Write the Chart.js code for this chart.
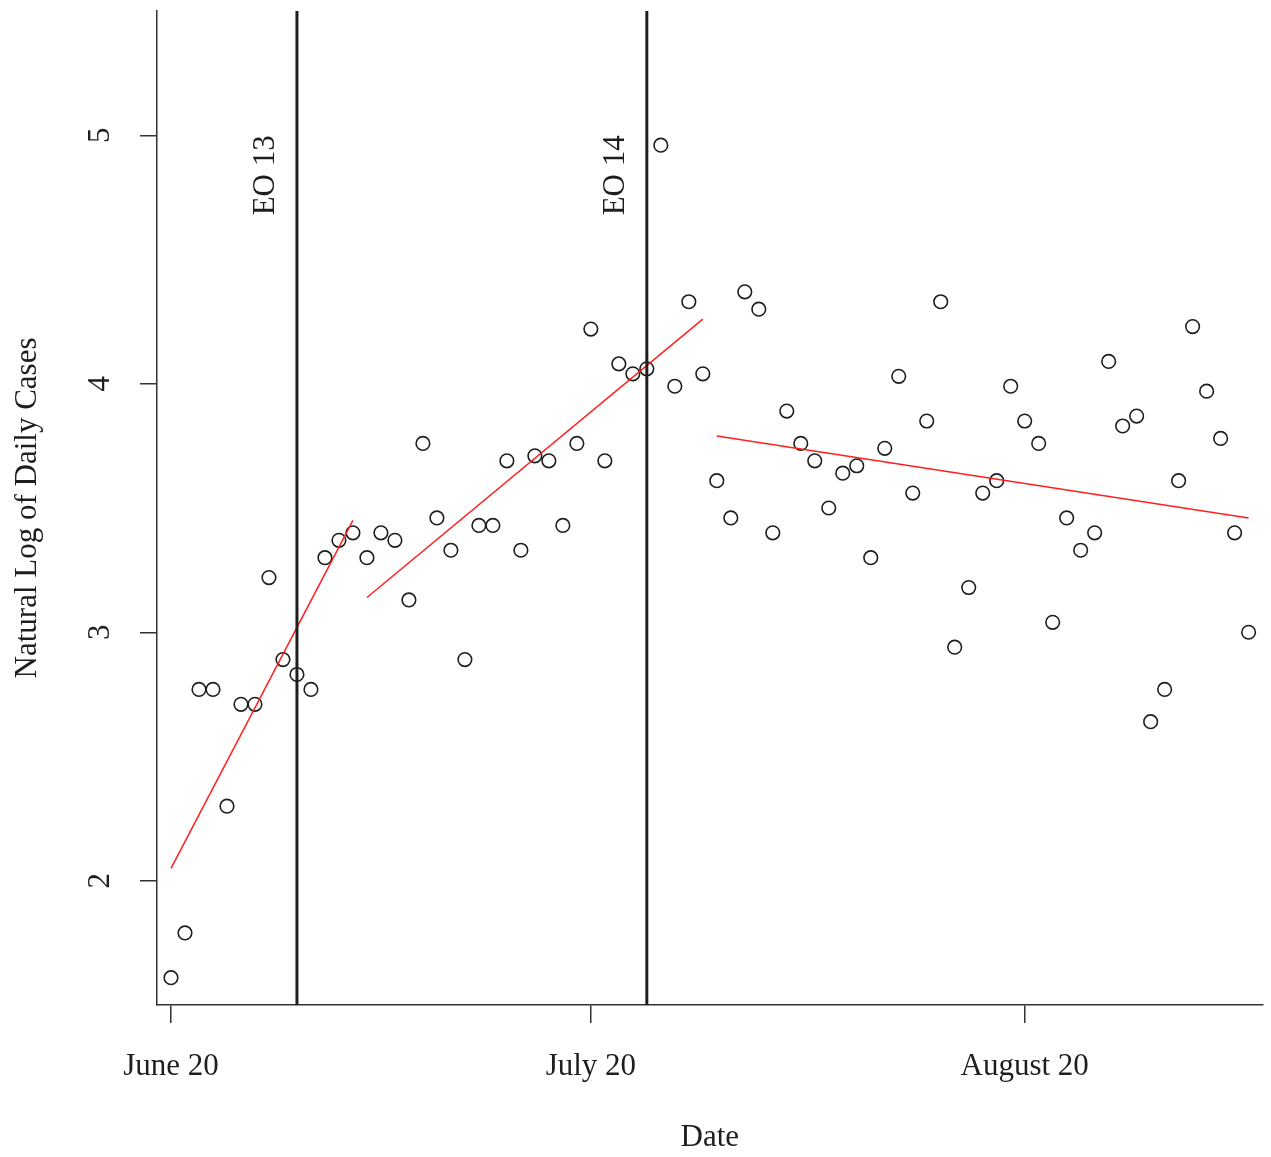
<!DOCTYPE html>
<html>
<head>
<meta charset="utf-8">
<title>Natural Log of Daily Cases</title>
<script src="https://cdn.jsdelivr.net/npm/chart.js@4.4.1/dist/chart.umd.min.js"></script>
<style>
  html, body { margin: 0; padding: 0; background: #fff; }
  #grafico { display: block; }
</style>
</head>
<body>
<canvas id="grafico" width="1271" height="1157"></canvas>
<script>
// --- DATOS ---
// days counted from June 20
var days = [0, 1, 2, 3, 4, 5, 6, 7, 8, 9, 10, 11, 12, 13, 14, 15, 16, 17, 18, 19,
            20, 21, 22, 23, 24, 25, 26, 27, 28, 29, 30, 31, 32, 33, 34, 35, 36, 37, 38, 39,
            40, 41, 42, 43, 44, 45, 46, 47, 48, 49, 50, 51, 52, 53, 54, 55, 56, 57, 58, 59,
            60, 61, 62, 63, 64, 65, 66, 67, 68, 69, 70, 71, 72, 73, 74, 75, 76, 77];
var logCases = [1.61, 1.79, 2.77, 2.77, 2.30, 2.71, 2.71, 3.22, 2.89, 2.83,
                2.77, 3.30, 3.37, 3.40, 3.30, 3.40, 3.37, 3.13, 3.76, 3.46,
                3.33, 2.89, 3.43, 3.43, 3.69, 3.33, 3.71, 3.69, 3.43, 3.76,
                4.22, 3.69, 4.08, 4.04, 4.06, 4.96, 3.99, 4.33, 4.04, 3.61,
                3.46, 4.37, 4.30, 3.40, 3.89, 3.76, 3.69, 3.50, 3.64, 3.67,
                3.30, 3.74, 4.03, 3.56, 3.85, 4.33, 2.94, 3.18, 3.56, 3.61,
                3.99, 3.85, 3.76, 3.04, 3.46, 3.33, 3.40, 4.09, 3.83, 3.87,
                2.64, 2.77, 3.61, 4.23, 3.97, 3.78, 3.40, 3.00];

// regression segments
var fitStartDay = [0, 14, 39];
var fitEndDay = [13, 38, 77];
var fitStartY = [2.05, 3.14, 3.79];
var fitEndY = [3.45, 4.26, 3.46];

// executive orders
var eoDays = [9, 34];
var eoLabels = ['EO 13', 'EO 14'];
var eoLabelY = 5;

// axes
var xTickDays = [0, 30, 61];
var xTickLabels = ['June 20', 'July 20', 'August 20'];
var yTicks = [2, 3, 4, 5];
var xMin = -1, xMax = 78;
var yMin = 1.5, yMax = 5.5;

const tinta = '#1e1e1e';
const ejes = '#333333';
const fuente = "'Liberation Serif', 'Times New Roman', serif";

Chart.defaults.font.family = fuente;
Chart.defaults.font.size = 31;
Chart.defaults.color = tinta;

// --- ETIQUETAS EO ---
const etiquetasEO = {
    id: 'etiquetasEO',
    afterDatasetsDraw(chart) {
        const { ctx, scales: { x, y } } = chart;
        ctx.save();
        ctx.font = '31px ' + fuente;
        ctx.fillStyle = tinta;
        ctx.textAlign = 'right';
        ctx.textBaseline = 'middle';
        eoDays.forEach((d, i) => {
            ctx.save();
            ctx.translate(x.getPixelForValue(d) - 31, y.getPixelForValue(eoLabelY));
            ctx.rotate(-Math.PI / 2);
            ctx.fillText(eoLabels[i], 0, 0);
            ctx.restore();
        });
        ctx.restore();
    }
};

const puntos = days.map((d, i) => ({ x: d, y: logCases[i] }));

const tramos = fitStartDay.map((d, i) => ({
    type: 'line',
    data: [{ x: d, y: fitStartY[i] }, { x: fitEndDay[i], y: fitEndY[i] }],
    borderColor: '#ff1f1f',
    borderWidth: 1.5,
    pointRadius: 0,
    fill: false,
    order: 2
}));

const verticales = eoDays.map(d => ({
    type: 'line',
    data: [{ x: d, y: yMin }, { x: d, y: yMax }],
    borderColor: tinta,
    borderWidth: 3,
    pointRadius: 0,
    fill: false,
    order: 1
}));

const ctx = document.getElementById('grafico').getContext('2d');

new Chart(ctx, {
    type: 'scatter',
    data: {
        datasets: [{
            data: puntos,
            pointStyle: 'circle',
            pointRadius: 6.8,
            pointBorderWidth: 1.6,
            borderColor: tinta,
            backgroundColor: 'rgba(0,0,0,0)',
            order: 3
        }].concat(tramos, verticales)
    },
    options: {
        responsive: false,
        animation: false,
        layout: { padding: { top: 11, right: 8, left: 0, bottom: 0 } },
        plugins: { legend: { display: false }, tooltip: { enabled: false } },
        scales: {
            x: {
                type: 'linear',
                min: xMin,
                max: xMax,
                afterBuildTicks: s => { s.ticks = xTickDays.map(v => ({ value: v })); },
                afterFit: s => {
                    s.height = 152;
                    s.paddingLeft = 0;
                    s.paddingRight = 0;
                },
                ticks: {
                    autoSkip: false,
                    maxRotation: 0,
                    padding: 25,
                    callback: (v, i) => xTickLabels[i]
                },
                grid: { drawOnChartArea: false, tickLength: 18, color: ejes, lineWidth: 1.5 },
                border: { color: ejes, width: 1.5 },
                title: { display: true, text: 'Date', padding: { top: 0, bottom: 1 } }
            },
            y: {
                type: 'linear',
                min: yMin,
                max: yMax,
                afterBuildTicks: s => { s.ticks = yTicks.map(v => ({ value: v })); },
                afterFit: s => {
                    s.width = 157;
                    s.paddingTop = 0;
                    s.paddingBottom = 0;
                },
                ticks: { minRotation: 90, maxRotation: 90, crossAlign: 'center', padding: 31 },
                grid: { drawOnChartArea: false, tickLength: 17, color: ejes, lineWidth: 1.5 },
                border: { color: ejes, width: 1.5 },
                title: { display: true, text: 'Natural Log of Daily Cases', padding: { top: 9, bottom: 0 } }
            }
        }
    },
    plugins: [etiquetasEO]
});
</script>
</body>
</html>
